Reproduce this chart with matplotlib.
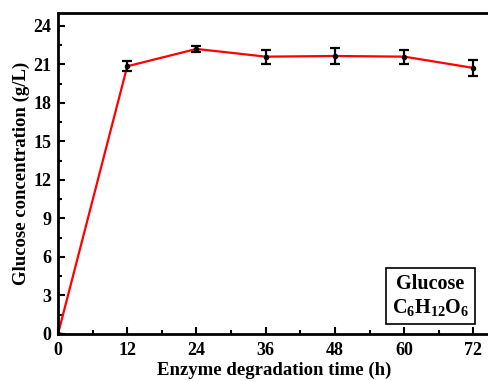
import numpy as np
import matplotlib.pyplot as plt
from matplotlib.ticker import MultipleLocator

plt.rcParams['font.family'] = ['Liberation Serif', 'DejaVu Serif']
plt.rcParams['font.weight'] = 'bold'
plt.rcParams['mathtext.fontset'] = 'custom'
plt.rcParams['mathtext.rm'] = 'Liberation Serif'
plt.rcParams['mathtext.bf'] = 'Liberation Serif:bold'

# enzyme degradation time (h) and glucose concentration (g/L)
time_h = [0, 12, 24, 36, 48, 60, 72]
glucose = [0, 20.85, 22.2, 21.6, 21.65, 21.6, 20.72]
glucose_err = [0, 0.4, 0.2, 0.55, 0.6, 0.55, 0.62]

fig = plt.figure(figsize=(4.89, 3.81), dpi=100)
ax = fig.add_axes([0.1186, 0.1234, 0.885, 0.8425])

ax.plot(time_h, glucose, color='red', lw=1.6, zorder=2)
ax.errorbar(time_h, glucose, yerr=glucose_err, fmt='o', ms=3, color='black',
            ecolor='black', elinewidth=1.6, capsize=3.5, capthick=1.6, zorder=3)

ax.set_xlim(0, 75)
ax.set_ylim(0, 25)
ax.xaxis.set_major_locator(MultipleLocator(12))
ax.xaxis.set_minor_locator(MultipleLocator(6))
ax.yaxis.set_major_locator(MultipleLocator(3))
ax.yaxis.set_minor_locator(MultipleLocator(1.5))
ax.tick_params(which='both', direction='in', width=1.5, labelsize=13)
ax.tick_params(which='major', length=5)
ax.tick_params(which='minor', length=3)
ax.tick_params(axis='x', pad=6)
ax.tick_params(axis='y', pad=5)
for s in ax.spines.values():
    s.set_linewidth(2)

ax.set_xlabel('Enzyme degradation time (h)', fontsize=13.5, fontweight='bold', labelpad=2)
ax.set_ylabel('Glucose concentration (g/L)', fontsize=13.5, fontweight='bold', labelpad=2)

ax.text(0.861, 0.118, 'Glucose\n$\\mathrm{C_6H_{12}O_6}$', transform=ax.transAxes,
        ha='center', va='center', fontsize=14.5, fontweight='bold', linespacing=1.15,
        bbox=dict(boxstyle='square,pad=0.3', fc='white', ec='black', lw=1.2))

fig.savefig('out.png', dpi=100)
